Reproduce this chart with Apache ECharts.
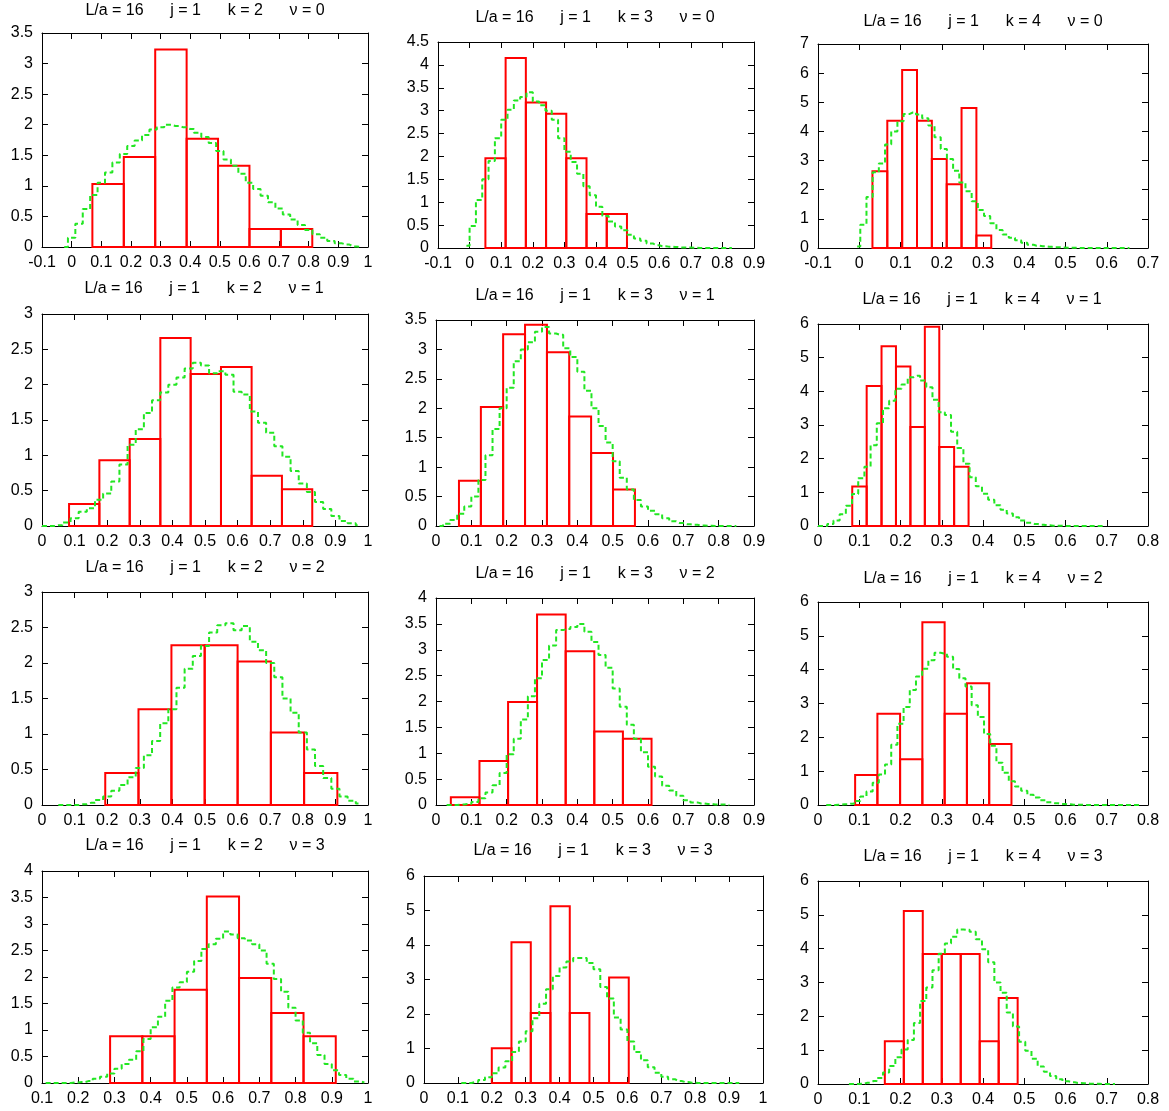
<!DOCTYPE html>
<html>
<head>
<meta charset="utf-8">
<script src="https://cdn.jsdelivr.net/npm/echarts@6/dist/echarts.min.js"></script>
<style>
  html, body { margin: 0; padding: 0; background: #fff; }
  #chart { width: 1169px; height: 1111px; }
</style>
</head>
<body>
<div id="chart"></div>
<script>
// ---- panel parameters (row = nu, column = k) ----
var panelK  = [2, 3, 4, 2, 3, 4, 2, 3, 4, 2, 3, 4];
var panelNu = [0, 0, 0, 1, 1, 1, 2, 2, 2, 3, 3, 3];

// axis ranges
var xMin  = [-0.1, -0.1, -0.1, 0, 0, 0, 0, 0, 0, 0.1, 0, 0];
var xMax  = [1, 0.9, 0.7, 1, 0.9, 0.8, 1, 0.9, 0.8, 1, 1, 0.8];
var yMax  = [3.5, 4.5, 7, 3, 3.5, 6, 3, 4, 6, 4, 6, 6];
var yStep = [0.5, 0.5, 1, 0.5, 0.5, 1, 0.5, 0.5, 1, 0.5, 1, 1];

// ---- histogram bins (red boxes): edges + heights ----
var edges_k2_v0   = [0.07, 0.176, 0.282, 0.388, 0.494, 0.6, 0.706, 0.812];
var heights_k2_v0 = [1.03, 1.47, 3.23, 1.77, 1.33, 0.295, 0.295];
var edges_k3_v0   = [0.05, 0.114, 0.178, 0.242, 0.306, 0.37, 0.434, 0.498];
var heights_k3_v0 = [1.96, 4.15, 3.18, 2.93, 1.96, 0.74, 0.74];
var edges_k4_v0   = [0.032, 0.068, 0.104, 0.14, 0.176, 0.212, 0.248, 0.284, 0.32];
var heights_k4_v0 = [2.63, 4.37, 6.11, 4.37, 3.05, 2.19, 4.8, 0.43];

var edges_k2_v1   = [0.083, 0.176, 0.269, 0.363, 0.456, 0.549, 0.643, 0.736, 0.829];
var heights_k2_v1 = [0.31, 0.93, 1.23, 2.66, 2.15, 2.25, 0.71, 0.52];
var edges_k3_v1   = [0.065, 0.127, 0.19, 0.252, 0.314, 0.377, 0.439, 0.501, 0.563];
var heights_k3_v1 = [0.77, 2.02, 3.26, 3.42, 2.95, 1.86, 1.24, 0.62];
var edges_k4_v1   = [0.083, 0.118, 0.154, 0.189, 0.224, 0.259, 0.294, 0.33, 0.365];
var heights_k4_v1 = [1.17, 4.16, 5.34, 4.74, 2.94, 5.92, 2.35, 1.76];

var edges_k2_v2   = [0.194, 0.296, 0.397, 0.499, 0.6, 0.702, 0.804, 0.906];
var heights_k2_v2 = [0.45, 1.35, 2.25, 2.25, 2.02, 1.02, 0.45];
var edges_k3_v2   = [0.042, 0.123, 0.204, 0.286, 0.367, 0.448, 0.529, 0.61];
var heights_k3_v2 = [0.15, 0.85, 1.99, 3.68, 2.97, 1.42, 1.28];
var edges_k4_v2   = [0.09, 0.144, 0.199, 0.253, 0.307, 0.361, 0.415, 0.469];
var heights_k4_v2 = [0.89, 2.7, 1.35, 5.4, 2.7, 3.6, 1.8];

var edges_k2_v3   = [0.288, 0.377, 0.466, 0.555, 0.644, 0.733, 0.822, 0.911];
var heights_k2_v3 = [0.88, 0.88, 1.76, 3.52, 1.98, 1.32, 0.88];
var edges_k3_v3   = [0.2, 0.258, 0.315, 0.373, 0.43, 0.488, 0.546, 0.604];
var heights_k3_v3 = [1.01, 4.08, 2.03, 5.12, 2.03, 0, 3.06];
var edges_k4_v3   = [0.162, 0.208, 0.254, 0.3, 0.346, 0.392, 0.438, 0.484];
var heights_k4_v3 = [1.26, 5.11, 3.84, 3.84, 3.84, 1.26, 2.54];

// ---- green step curves: first bin centre, bin width, values ----
var curveStart = [-0.025, -0.01, -0.005, 0, 0.01, 0, 0.05, 0.03, 0.02, 0.11, 0.11, 0.075];
var curveStep  = [0.025, 0.02, 0.015, 0.025, 0.02, 0.015, 0.025, 0.02, 0.015, 0.02, 0.02, 0.015];

var curve_k2_v0 = [0, 0.15, 0.38, 0.62, 0.85, 1.05, 1.22, 1.38, 1.52, 1.65, 1.74, 1.83, 1.92, 1.96,
  2.0, 1.98, 1.96, 1.93, 1.87, 1.8, 1.7, 1.57, 1.43, 1.33, 1.2, 1.05, 0.95, 0.84, 0.73, 0.63,
  0.53, 0.45, 0.36, 0.28, 0.21, 0.15, 0.1, 0.06, 0.04, 0.01, 0];
var curve_k3_v0 = [0.05, 0.48, 1.05, 1.5, 1.9, 2.4, 2.8, 3.02, 3.22, 3.3, 3.4, 3.2, 3.12, 3.0, 2.8,
  2.4, 2.1, 1.88, 1.62, 1.35, 1.15, 0.9, 0.7, 0.58, 0.47, 0.39, 0.29, 0.21, 0.16, 0.1, 0.06,
  0.04, 0.03, 0.02, 0.01, 0.01, 0.005, 0, 0, 0, 0, 0, 0];
var curve_k4_v0 = [0.05, 0.8, 1.75, 2.6, 2.9, 3.55, 4.0, 4.35, 4.6, 4.65, 4.58, 4.45, 4.2, 3.8, 3.4,
  3.05, 2.65, 2.25, 1.95, 1.6, 1.3, 1.1, 0.85, 0.62, 0.46, 0.35, 0.27, 0.18, 0.11, 0.08, 0.06,
  0.04, 0.03, 0.02, 0.01, 0.01, 0, 0, 0, 0, 0, 0, 0, 0, 0];

var curve_k2_v1 = [0, 0, 0.01, 0.05, 0.11, 0.2, 0.25, 0.37, 0.46, 0.63, 0.87, 1.15, 1.37, 1.6, 1.78,
  1.89, 2.0, 2.1, 2.23, 2.31, 2.27, 2.16, 2.19, 2.14, 1.9, 1.86, 1.62, 1.46, 1.32, 1.13, 0.98,
  0.78, 0.6, 0.48, 0.34, 0.24, 0.14, 0.07, 0.04, 0.01];
var curve_k3_v1 = [0, 0.04, 0.1, 0.21, 0.33, 0.5, 0.78, 1.2, 1.65, 2.0, 2.35, 2.8, 3.0, 3.12, 3.3,
  3.38, 3.27, 3.25, 3.02, 2.87, 2.62, 2.3, 2.0, 1.7, 1.42, 1.1, 0.82, 0.62, 0.44, 0.33, 0.26,
  0.2, 0.13, 0.08, 0.05, 0.03, 0.02, 0.01, 0.005, 0, 0, 0, 0];
var curve_k4_v1 = [0, 0, 0.06, 0.16, 0.35, 0.6, 0.95, 1.42, 1.76, 2.4, 3.05, 3.5, 3.72, 4.08, 4.2,
  4.42, 4.46, 4.32, 4.12, 3.75, 3.38, 3.3, 2.8, 2.32, 1.85, 1.45, 1.18, 0.96, 0.78, 0.62, 0.48,
  0.37, 0.26, 0.16, 0.1, 0.06, 0.04, 0.02, 0.01, 0.01, 0, 0, 0, 0, 0, 0, 0];

var curve_k2_v2 = [0, 0, 0, 0.01, 0.03, 0.07, 0.12, 0.2, 0.28, 0.39, 0.52, 0.7, 0.9, 1.15, 1.35,
  1.65, 1.92, 2.1, 2.24, 2.43, 2.53, 2.56, 2.46, 2.52, 2.3, 2.18, 2.0, 1.8, 1.5, 1.3, 1.02,
  0.78, 0.55, 0.38, 0.23, 0.12, 0.06, 0.02];
var curve_k3_v2 = [0, 0, 0.01, 0.02, 0.06, 0.13, 0.24, 0.38, 0.62, 0.98, 1.28, 1.65, 2.1, 2.45, 2.8,
  3.08, 3.38, 3.4, 3.44, 3.5, 3.35, 3.15, 2.9, 2.65, 2.25, 1.9, 1.55, 1.28, 1.02, 0.74, 0.55,
  0.37, 0.28, 0.18, 0.09, 0.05, 0.03, 0.02, 0.01, 0.01, 0];
var curve_k4_v2 = [0, 0, 0.01, 0.02, 0.04, 0.12, 0.25, 0.4, 0.66, 0.9, 1.2, 1.78, 2.4, 2.9, 3.4,
  3.8, 4.03, 4.28, 4.5, 4.48, 4.38, 4.02, 3.75, 3.5, 2.95, 2.6, 2.1, 1.75, 1.25, 0.95, 0.7,
  0.55, 0.42, 0.3, 0.22, 0.14, 0.08, 0.05, 0.03, 0.02, 0.01, 0.01, 0, 0, 0, 0, 0, 0, 0, 0, 0, 0];

var curve_k2_v3 = [0, 0, 0, 0, 0.01, 0.02, 0.04, 0.08, 0.12, 0.18, 0.27, 0.36, 0.44, 0.6, 0.83,
  1.05, 1.25, 1.55, 1.8, 1.9, 2.1, 2.3, 2.53, 2.62, 2.72, 2.86, 2.8, 2.73, 2.69, 2.62, 2.5,
  2.25, 1.96, 1.72, 1.42, 1.18, 0.95, 0.75, 0.53, 0.36, 0.24, 0.15, 0.08, 0.03, 0.01];
var curve_k3_v3 = [0, 0, 0.03, 0.09, 0.17, 0.28, 0.45, 0.63, 0.9, 1.2, 1.5, 1.88, 2.3, 2.72, 3.1,
  3.35, 3.52, 3.62, 3.62, 3.48, 3.3, 2.78, 2.45, 1.9, 1.55, 1.2, 0.9, 0.66, 0.46, 0.3, 0.18,
  0.11, 0.06, 0.03, 0.01, 0, 0, 0, 0, 0, 0, 0];
var curve_k4_v3 = [0, 0, 0.01, 0.04, 0.09, 0.18, 0.34, 0.53, 0.79, 1.02, 1.3, 1.8, 2.45, 2.85, 3.36,
  3.85, 4.15, 4.35, 4.57, 4.56, 4.5, 4.28, 3.98, 3.6, 3.0, 2.7, 2.11, 1.7, 1.25, 0.98, 0.75,
  0.52, 0.36, 0.24, 0.14, 0.08, 0.05, 0.03, 0.02, 0.01, 0.01, 0, 0, 0];

var panelEdges = [edges_k2_v0, edges_k3_v0, edges_k4_v0, edges_k2_v1, edges_k3_v1, edges_k4_v1,
                  edges_k2_v2, edges_k3_v2, edges_k4_v2, edges_k2_v3, edges_k3_v3, edges_k4_v3];
var panelHeights = [heights_k2_v0, heights_k3_v0, heights_k4_v0, heights_k2_v1, heights_k3_v1, heights_k4_v1,
                    heights_k2_v2, heights_k3_v2, heights_k4_v2, heights_k2_v3, heights_k3_v3, heights_k4_v3];
var panelCurves = [curve_k2_v0, curve_k3_v0, curve_k4_v0, curve_k2_v1, curve_k3_v1, curve_k4_v1,
                   curve_k2_v2, curve_k3_v2, curve_k4_v2, curve_k2_v3, curve_k3_v3, curve_k4_v3];

// ---- layout (pixels): plot box [left, top, right, bottom] and title centre ----
var boxes = [
  [42, 33, 368, 247], [438, 42, 754, 248], [818, 44, 1148, 248],
  [42, 314, 368, 526], [436, 320, 754, 526], [818, 324, 1148, 526],
  [42, 592, 368, 805], [436, 598, 754, 805], [818, 602, 1148, 805],
  [42, 871, 368, 1083], [424, 876, 763, 1083], [818, 881, 1148, 1084]
];
var titlePos = [
  [205, 11], [595, 18], [983, 22],
  [204, 289], [595, 296], [982, 300],
  [205, 568], [595, 574], [983, 579],
  [205, 846], [593, 851], [983, 857]
];

var FONT = '"Liberation Sans", Arial, Helvetica, sans-serif';
var FS = 16;
var RED = '#ff0000';
var GREEN = '#22e622';

function fmt(v) { return String(Math.round(v * 1000) / 1000); }

function makeXAxis(i, pos) {
  return {
    gridIndex: i, type: 'value', position: pos,
    min: xMin[i], max: xMax[i], interval: 0.1,
    axisLine: { show: true, onZero: false, lineStyle: { color: '#000', width: 1 } },
    axisTick: { show: true, inside: true, length: 6, lineStyle: { color: '#000' } },
    axisLabel: {
      show: pos === 'bottom', color: '#000', fontFamily: FONT, fontSize: FS, margin: 8,
      showMinLabel: true, showMaxLabel: true, formatter: fmt
    },
    splitLine: { show: false }
  };
}

function makeYAxis(i, pos) {
  return {
    gridIndex: i, type: 'value', position: pos,
    min: 0, max: yMax[i], interval: yStep[i],
    axisLine: { show: true, onZero: false, lineStyle: { color: '#000', width: 1 } },
    axisTick: { show: true, inside: true, length: 6, lineStyle: { color: '#000' } },
    axisLabel: {
      show: pos === 'left', color: '#000', fontFamily: FONT, fontSize: FS, margin: 9,
      showMinLabel: true, showMaxLabel: true, formatter: fmt
    },
    splitLine: { show: false }
  };
}

// red open boxes of the histogram
function renderBox(params, api) {
  var a = api.coord([api.value(0), 0]);
  var b = api.coord([api.value(1), api.value(2)]);
  return {
    type: 'rect',
    shape: { x: a[0], y: b[1], width: b[0] - a[0], height: a[1] - b[1] },
    style: { fill: 'none', stroke: RED, lineWidth: 2 }
  };
}

var grids = [], xAxes = [], yAxes = [], series = [], graphics = [];

for (var i = 0; i < 12; i++) {
  var bx = boxes[i];
  grids.push({ left: bx[0], top: bx[1], width: bx[2] - bx[0], height: bx[3] - bx[1], containLabel: false });
  xAxes.push(makeXAxis(i, 'bottom'), makeXAxis(i, 'top'));
  yAxes.push(makeYAxis(i, 'left'), makeYAxis(i, 'right'));

  var e = panelEdges[i], h = panelHeights[i];
  var boxData = [];
  for (var j = 0; j < h.length; j++) boxData.push([e[j], e[j + 1], h[j]]);
  series.push({
    type: 'custom', xAxisIndex: 2 * i, yAxisIndex: 2 * i,
    renderItem: renderBox, data: boxData, encode: { x: [0, 1], y: 2 },
    silent: true, z: 2
  });

  var cy = panelCurves[i], lineData = [];
  for (var m = 0; m < cy.length; m++) {
    lineData.push([Math.round((curveStart[i] + m * curveStep[i]) * 10000) / 10000, cy[m]]);
  }
  series.push({
    type: 'line', xAxisIndex: 2 * i, yAxisIndex: 2 * i,
    data: lineData, step: 'middle', showSymbol: false, silent: true, z: 3,
    lineStyle: { color: GREEN, width: 2, type: [5, 3] }
  });

  graphics.push({
    type: 'text', x: titlePos[i][0], y: titlePos[i][1],
    style: {
      text: 'L/a = 16      j = 1      k = ' + panelK[i] + '      \u03bd = ' + panelNu[i],
      font: FS + 'px ' + FONT, fill: '#000',
      textAlign: 'center', textVerticalAlign: 'middle'
    }
  });
}

var chart = echarts.init(document.getElementById('chart'), null, { renderer: 'canvas' });
chart.setOption({
  animation: false,
  backgroundColor: '#fff',
  grid: grids,
  xAxis: xAxes,
  yAxis: yAxes,
  series: series,
  graphic: graphics
});
</script>
</body>
</html>
